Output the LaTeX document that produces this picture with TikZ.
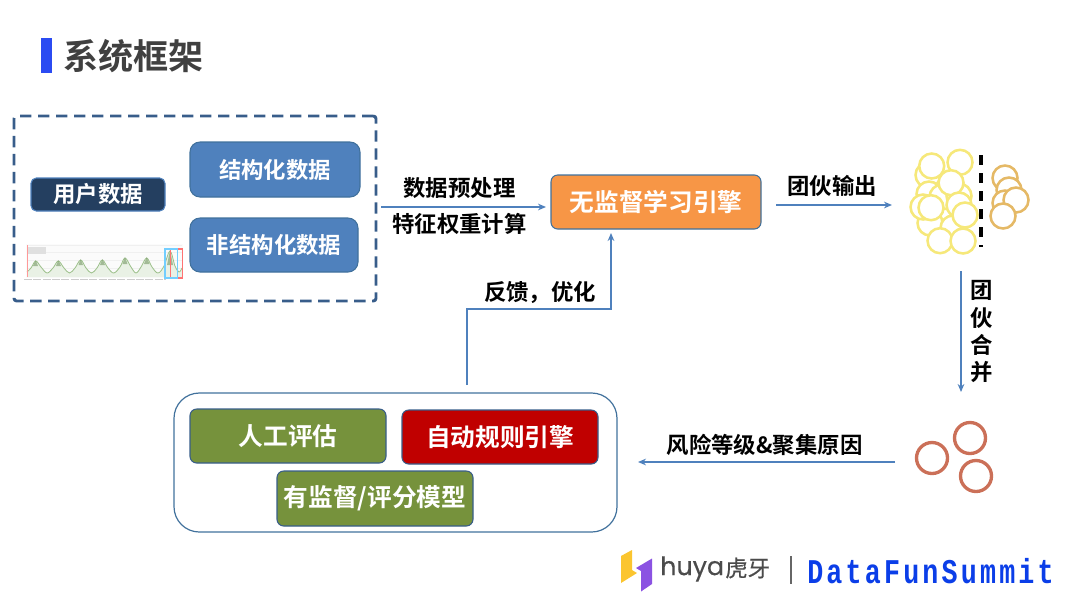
\documentclass[tikz,border=0pt]{standalone}
\usepackage{fontspec}
\setmainfont[BoldFont=* Bold]{Noto Sans CJK SC}
\newfontfamily\poppinsfont[FakeBold=0.4]{Poppins}
\newfontfamily\cjkmed[FakeBold=0.6]{Noto Sans CJK SC}
\newfontfamily\monofontb[BoldFont=* Bold,LetterSpace=12]{Liberation Mono}
\usetikzlibrary{arrows.meta}
\newcommand{\px}{0.75pt}
\newcommand{\fs}[1]{\fontsize{#1}{#1}\selectfont\bfseries}
\definecolor{boxblue}{HTML}{4F81BD}
\definecolor{boxedge}{HTML}{41719C}
\definecolor{navy}{HTML}{243F60}
\definecolor{dashc}{HTML}{385D8A}
\definecolor{orangeb}{HTML}{F79646}
\definecolor{greenb}{HTML}{76923C}
\definecolor{redb}{HTML}{C00000}
\definecolor{yel}{HTML}{F6E87A}
\definecolor{ora}{HTML}{E5B966}
\definecolor{rust}{HTML}{CB7058}
\definecolor{chartg}{HTML}{9CC08A}
\tikzset{
  box/.style={draw=boxedge,line width=0.8pt,rounded corners=7.5pt,inner sep=0pt,text=white,font=\fs{16.8}},
  greenbox/.style={box,fill=greenb,draw=dashc,font=\fs{18.5},rounded corners=5pt},
  flow/.style={draw=boxblue,line width=1.5pt,-{Stealth[length=6pt,width=5pt]}},
  lab/.style={inner sep=0pt,text=black,font=\fs{16.8}},
  yc/.style={draw=yel,line width=1.9pt,circle,minimum size=25*\px,inner sep=0pt},
  oc/.style={draw=ora,line width=1.9pt,circle,minimum size=25*\px,inner sep=0pt},
  rc/.style={draw=rust,line width=2.5pt,circle,minimum size=31*\px,inner sep=0pt},
}
\begin{document}
\begin{tikzpicture}[x=0.75pt,y=-0.75pt]
\useasboundingbox (0,0) rectangle (1080,608);
% title
\fill[fill={rgb,255:red,43;green,75;blue,242}] (41,38) rectangle (52,73);
\node[inner sep=0pt,text={rgb,255:red,64;green,64;blue,64},font=\fs{26.3}] (title) at (133.5,56) {系统框架};
% data frame
\node[draw=dashc,line width=2.2pt,dash pattern=on 8.5pt off 5pt,rounded corners=2pt,minimum width=362*\px,minimum height=185*\px,inner sep=0pt] (frame) at (195,208.5) {};
\node[box,fill=navy,draw=boxblue,rounded corners=4pt,minimum width=134*\px,minimum height=33*\px,font=\fs{16.8}] (user) at (98,194.5) {用户数据};
\node[box,fill=boxblue,minimum width=170*\px,minimum height=55*\px] (s1) at (275,169.5) {结构化数据};
\node[box,fill=boxblue,minimum width=168*\px,minimum height=54*\px] (s2) at (274,245) {非结构化数据};
% chart thumbnail
\fill[black!1.5] (26,244) rectangle (183,278);
\draw[black!6,line width=0.3pt] (27,245) -- (182,245) (27,252) -- (182,252) (27,260) -- (182,260) (27,268) -- (182,268);
\fill[chartg!22] (27,277) -- plot[smooth,tension=0.6] coordinates {(27,272)(31,268)(35.7,261)(41,267)(47,273)(53,268)(58.3,261)(64,268)(69.5,273)(75,268)(80.7,260)(86,268)(91.5,273)(97,268)(102.3,260)(108,268)(113.7,273)(120,267)(125,258)(131,267)(136,273)(141,267)(146.7,258)(152,267)(158,273)(164,266)(170,251)(175,266)(179,272)(182,268)} -- (182,277) -- cycle;
\draw[chartg,line width=0.6pt] plot[smooth,tension=0.6] coordinates {(27,272)(31,268)(35.7,261)(41,267)(47,273)(53,268)(58.3,261)(64,268)(69.5,273)(75,268)(80.7,260)(86,268)(91.5,273)(97,268)(102.3,260)(108,268)(113.7,273)(120,267)(125,258)(131,267)(136,273)(141,267)(146.7,258)(152,267)(158,273)(164,266)(170,251)(175,266)(179,272)(182,268)};
\fill[chartg!85!black,opacity=0.7] (33,266) -- (35.7,260) -- (38,266) -- cycle (56,266) -- (58.3,260) -- (61,266) -- cycle (78.5,265) -- (80.7,259) -- (83,265) -- cycle (100,265) -- (102.3,259) -- (105,265) -- cycle (122.5,264) -- (125,257) -- (127.5,264) -- cycle (144,264) -- (146.7,257) -- (149.5,264) -- cycle (167,265) -- (170,250) -- (173,265) -- cycle;
\fill[black!12] (27,247) rectangle (46,253.5);
\draw[black!20,line width=0.8pt,dash pattern=on 6pt off 1pt] (24,279.5) -- (166,279.5);
\draw[red!40!white,line width=0.5pt] (27,245) -- (27,277);
\draw[red!55!white,line width=0.9pt] (170.5,249) rectangle (182.5,278);
\draw[blue!35!cyan!55!white,line width=0.9pt] (165,249) rectangle (177.3,278);
% engine
\node[box,fill=orangeb,draw=boxedge,rounded corners=5pt,minimum width=210*\px,minimum height=54*\px,font=\fs{18.5}] (engine) at (656,202) {无监督学习引擎};
% labels
\node[lab] (l1) at (459.5,188) {数据预处理};
\node[lab] (l2) at (459.5,224) {特征权重计算};
\node[lab] (l3) at (832,186) {团伙输出};
\node[lab] (l4) at (540,292) {反馈，优化};
\node[lab] (l5) at (764.5,445) {风险等级\&聚集原因};
\node[lab] (l6a) at (981.5,290) {团};
\node[lab] (l6b) at (981.5,318) {伙};
\node[lab] (l6c) at (981.5,345) {合};
\node[lab] (l6d) at (981.5,372) {并};
% circles
\foreach \n/\x/\y in {a/928/175,b/929/194,c/942/197,d/959/196,e/930/223,f/953/228,g/923/207}
  \node[yc,fill=white] (y\n) at (\x,\y) {};
\foreach \n/\x/\y in {h/960/162.3,i/931.7/166,j/951/182.7,k/931/207.7,l/959/205,m/965/215,n/940/240.7,o/963/241}
  \node[yc,fill=white] (y\n) at (\x,\y) {};
\draw[black,line width=2.6pt,dash pattern=on 7.5pt off 6pt] (981,155) -- (981,247);
\foreach \n/\x/\y in {a/1005/178,b/1009/190,c/1005/203,d/1016/200,e/1003/216}
  \node[oc,fill=white] (o\n) at (\x,\y) {};
\node[rc] (ra) at (932,458) {};
\node[rc] (rb) at (970,438) {};
\node[rc] (rc) at (976,476) {};
% evaluation group
\node[draw=boxedge,line width=0.9pt,rounded corners=19pt,minimum width=443*\px,minimum height=139*\px,inner sep=0pt] (group) at (395.5,462.5) {};
\node[greenbox,minimum width=196*\px,minimum height=54*\px] (g1) at (288,436) {人工评估};
\node[greenbox,fill=redb,minimum width=196*\px,minimum height=54*\px] (g2) at (500,437) {自动规则引擎};
\node[greenbox,minimum width=196*\px,minimum height=55*\px] (g3) at (375,498.5) {有监督/评分模型};
% connectors
\coordinate (a1s) at (381,207); \coordinate (a1e) at (546,207);
\coordinate (a2s) at (776,205); \coordinate (a2e) at (892,205);
\coordinate (a3s) at (961,271); \coordinate (a3e) at (961,392);
\coordinate (a4s) at (895,462); \coordinate (a4e) at (638,462);
\coordinate (a5s) at (467,385); \coordinate (a5e) at (611,233);
\draw[flow] (a1s) -- (a1e);
\draw[flow] (a2s) -- (a2e);
\draw[flow] (a3s) -- (a3e);
\draw[flow] (a4s) -- (a4e);
\draw[flow] (a5s) -- (467,309) -- (611,309) -- (a5e);
% logos
\fill[fill={rgb,255:red,251;green,197;blue,47}] (621,556) -- (632,550) -- (632,570) -- (637,573) -- (621,583) -- cycle;
\fill[fill={rgb,255:red,139;green,82;blue,226}] (636,568) -- (652,558.5) -- (652,584) -- (641,591.5) -- (641,571) -- cycle;
\node[inner sep=0pt,anchor=west,text={rgb,255:red,75;green,75;blue,75},font=\poppinsfont\fontsize{19}{19}\selectfont] (huya) at (660,569) {huya};
\node[inner sep=0pt,anchor=west,text={rgb,255:red,75;green,75;blue,75},font=\cjkmed\fontsize{16.8}{16.8}\selectfont] (huyacn) at (725,568) {虎牙};
\draw[black!60,line width=0.9pt] (791,556) -- (791,584);
\node[inner sep=0pt,anchor=west,yscale=1.3,text={rgb,255:red,11;green,62;blue,232},font=\monofontb\bfseries\fontsize{20}{20}\selectfont] (dfs) at (807,571) {DataFunSummit};
\end{tikzpicture}
\end{document}
